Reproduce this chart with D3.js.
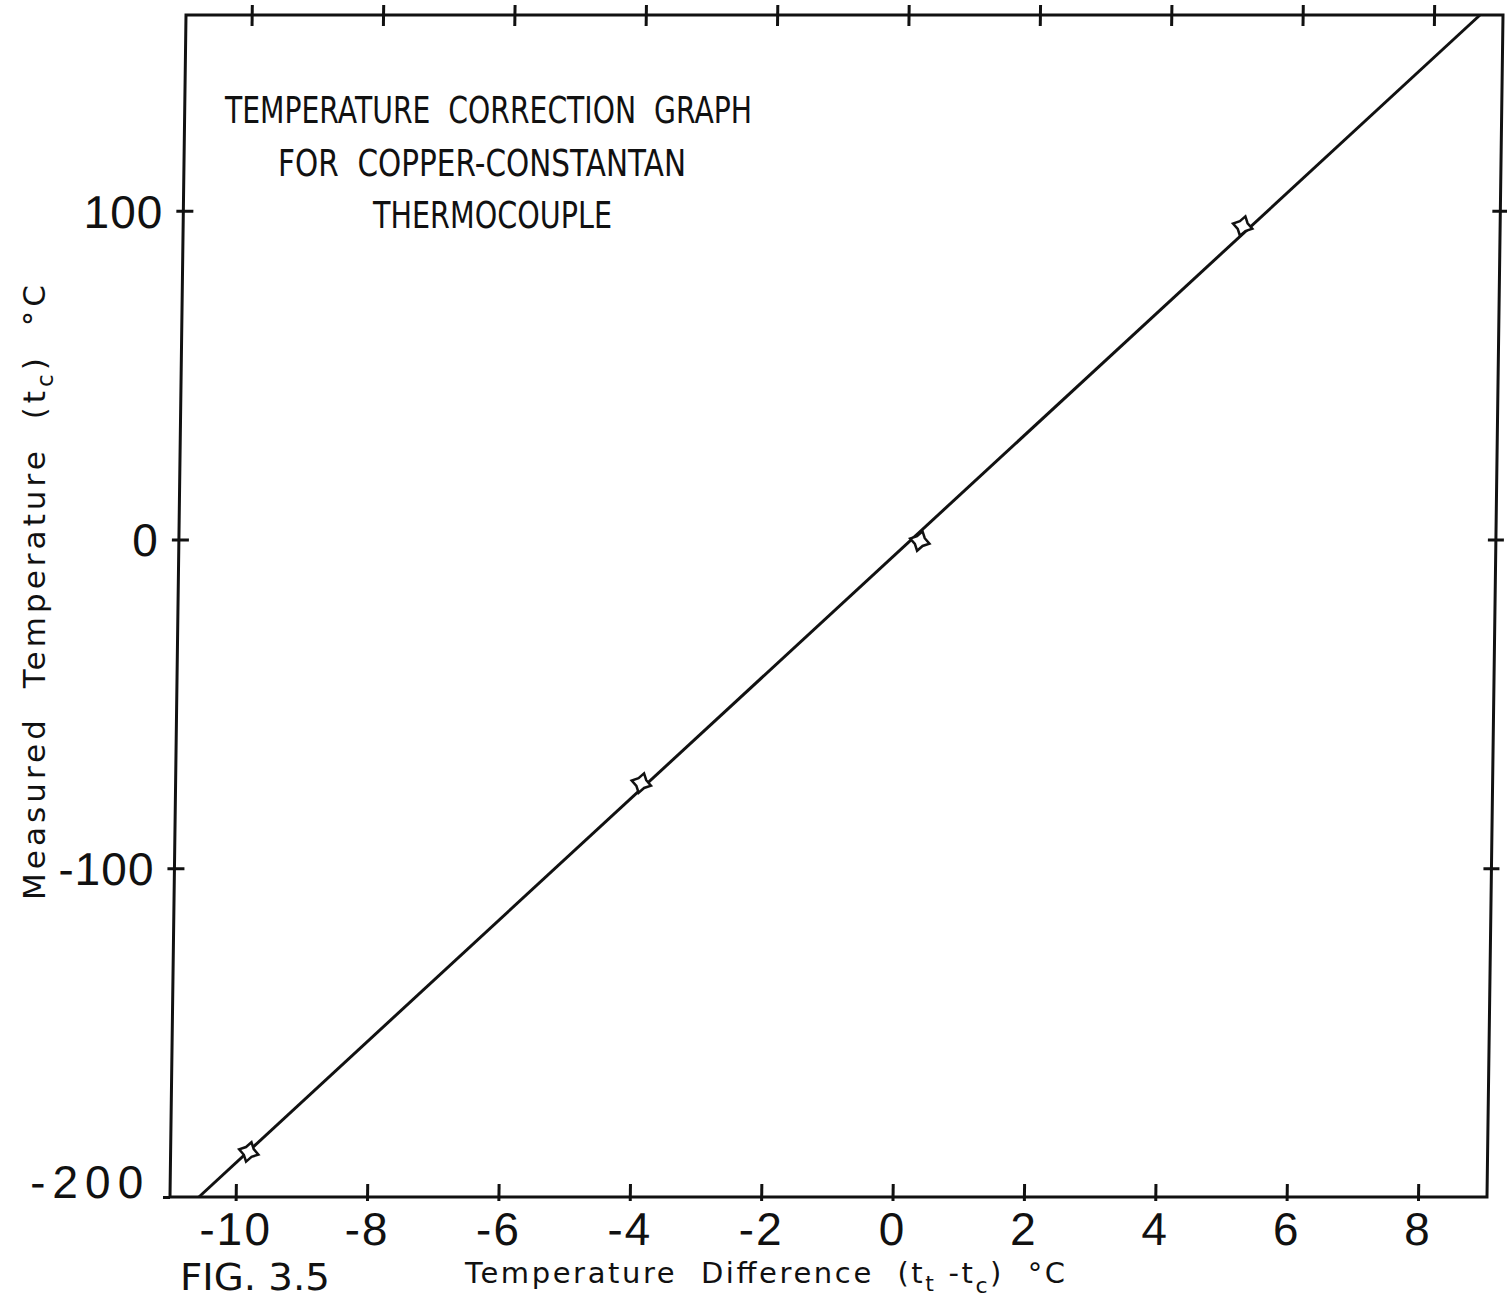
<!DOCTYPE html>
<html>
<head>
<meta charset="utf-8">
<script src="https://cdn.jsdelivr.net/npm/d3@7"></script>
<style>
  html, body { margin: 0; padding: 0; background: #fff; }
  svg { display: block; }
  text { fill: #111; }
</style>
</head>
<body>
<svg id="chart"></svg>
<script>
// values
const xTicks = [-10, -8, -6, -4, -2, 0, 2, 4, 6, 8];
const yTicks = [100, 0, -100, -200];
const yTicksRight = [100, 0, -100];
const pointX = [-9.81, -3.91, 0.28, 5.13];
const pointY = [-186.3, -74.1, -0.5, 95.3];
const fitX = [-10.56, 8.70];
const fitY = [-200, 159.5];
const titleLines = ["TEMPERATURE  CORRECTION  GRAPH", "FOR  COPPER-CONSTANTAN", "THERMOCOUPLE"];

function makeChart() {
	let w = 1507;
	let h = 1301;
	let left = 170, right = 1487, top = 15, bottom = 1197;
	let shear = 16; // the scan leans a little to the right at the top

	let chart = d3.select('#chart')
		.attr('width', w)
		.attr('height', h);

	let x = d3.scaleLinear().domain([-11.0, 9.05]).range([left, right]);
	let y = d3.scaleLinear().domain([-200, 159.5]).range([bottom, top]);

	let skew = Math.atan(shear / (bottom - top)) * 180 / Math.PI;
	let plot = chart.append('g')
		.attr('transform', `translate(0,${bottom}) skewX(${-skew}) translate(0,${-bottom})`);

	// frame
	plot.append('rect')
		.attr('x', left).attr('y', top)
		.attr('width', right - left).attr('height', bottom - top)
		.attr('fill', 'none')
		.attr('stroke', '#111')
		.attr('stroke-width', 3);

	// bottom axis
	let bAxis = plot.append('g')
		.attr('transform', `translate(0,${bottom})`)
		.call(d3.axisBottom(x).tickValues(xTicks).tickSize(0).tickFormat(d => String(d)));
	bAxis.select('.domain').remove();
	bAxis.selectAll('.tick line').attr('y1', -13).attr('y2', 4).attr('stroke', '#111').attr('stroke-width', 3);
	bAxis.selectAll('.tick text')
		.attr('y', 48).attr('dy', 0)
		.attr('font-family', 'Liberation Sans, Arial, sans-serif')
		.attr('font-size', 46)
		.attr('letter-spacing', 2)
		.attr('fill', '#111');

	// top axis, ticks only
	let tAxis = plot.append('g')
		.attr('transform', `translate(0,${top})`)
		.call(d3.axisTop(x).tickValues(xTicks).tickSize(0).tickFormat(''));
	tAxis.select('.domain').remove();
	tAxis.selectAll('.tick line').attr('y1', -10).attr('y2', 11).attr('stroke', '#111').attr('stroke-width', 3);

	// left axis
	let lAxis = plot.append('g')
		.attr('transform', `translate(${left},0)`)
		.call(d3.axisLeft(y).tickValues(yTicks).tickSize(0).tickFormat(d => String(d)));
	lAxis.select('.domain').remove();
	lAxis.selectAll('.tick line')
		.attr('x1', -7).attr('x2', d => d == -200 ? 0 : 10)
		.attr('stroke', '#111').attr('stroke-width', 3);
	lAxis.selectAll('.tick text')
		.attr('x', -20)
		.attr('y', d => d == -200 ? -16 : 0)
		.attr('dy', '0.36em')
		.attr('font-family', 'Liberation Sans, Arial, sans-serif')
		.attr('font-size', 46)
		.attr('letter-spacing', d => d == -200 ? 7 : 1)
		.attr('fill', '#111');

	// right axis, ticks only
	let rAxis = plot.append('g')
		.attr('transform', `translate(${right},0)`)
		.call(d3.axisRight(y).tickValues(yTicksRight).tickSize(0).tickFormat(''));
	rAxis.select('.domain').remove();
	rAxis.selectAll('.tick line').attr('x1', -8).attr('x2', 8).attr('stroke', '#111').attr('stroke-width', 3);

	// fitted line
	let line = d3.line()
		.x(d => x(d[0]))
		.y(d => y(d[1]));
	plot.append('path')
		.datum(d3.zip(fitX, fitY))
		.attr('d', line)
		.attr('fill', 'none')
		.attr('stroke', '#111')
		.attr('stroke-width', 3);

	// four pointed star markers
	let star = {
		draw(context, size) {
			let r = Math.sqrt(size) / 2, k = r * 0.4;
			context.moveTo(0, -r);
			context.lineTo(k, -k);
			context.lineTo(r, 0);
			context.lineTo(k, k);
			context.lineTo(0, r);
			context.lineTo(-k, k);
			context.lineTo(-r, 0);
			context.lineTo(-k, -k);
			context.closePath();
		}
	};
	plot.append('g')
		.selectAll('path')
		.data(d3.zip(pointX, pointY))
		.enter()
		.append('path')
		.attr('d', d3.symbol().type(star).size(400))
		.attr('transform', d => `translate(${x(d[0])},${y(d[1])}) rotate(15)`)
		.attr('fill', '#fff')
		.attr('stroke', '#111')
		.attr('stroke-width', 2.5);

	// title block
	let tf = 'DejaVu Sans, Liberation Sans, sans-serif';
	let titlePos = [[225, 123, 527], [278, 176, 408], [373, 228, 239]];
	chart.append('g')
		.selectAll('text')
		.data(titleLines)
		.enter()
		.append('text')
		.attr('x', (d, i) => titlePos[i][0])
		.attr('y', (d, i) => titlePos[i][1])
		.attr('textLength', (d, i) => titlePos[i][2])
		.attr('lengthAdjust', 'spacingAndGlyphs')
		.attr('font-family', tf)
		.attr('font-size', 37)
		.style('white-space', 'pre')
		.text(d => d);

	// x axis title
	let xt = chart.append('text')
		.attr('x', 465).attr('y', 1283)
		.attr('font-family', tf)
		.attr('font-size', 29)
		.attr('textLength', 600)
		.attr('lengthAdjust', 'spacing')
		.style('white-space', 'pre');
	xt.append('tspan').text('Temperature  Difference  (t');
	xt.append('tspan').attr('font-size', 22).attr('dy', 8).text('t');
	xt.append('tspan').attr('dy', -8).text(' -t');
	xt.append('tspan').attr('font-size', 22).attr('dy', 10).text('c');
	xt.append('tspan').attr('dy', -10).text(')  °C');

	// y axis title
	let yt = chart.append('text')
		.attr('transform', 'translate(45,900) rotate(-90)')
		.attr('font-family', tf)
		.attr('font-size', 31)
		.attr('textLength', 615)
		.attr('lengthAdjust', 'spacing')
		.style('white-space', 'pre');
	yt.append('tspan').text('Measured  Temperature  (t');
	yt.append('tspan').attr('font-size', 23).attr('dy', 8).text('c');
	yt.append('tspan').attr('dy', -8).text(')  °C');

	// figure number
	chart.append('text')
		.attr('x', 180).attr('y', 1290)
		.attr('font-family', tf)
		.attr('font-size', 37)
		.attr('textLength', 150)
		.attr('lengthAdjust', 'spacingAndGlyphs')
		.text('FIG. 3.5');
}

window.onload = function () {
	makeChart();
}
</script>
</body>
</html>
